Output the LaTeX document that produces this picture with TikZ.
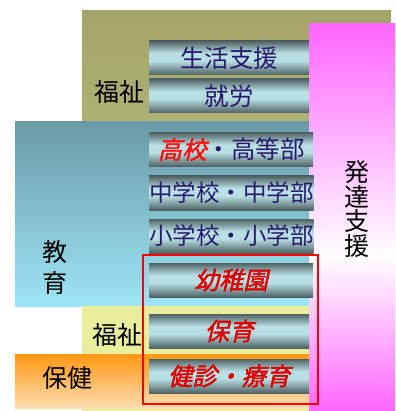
\documentclass[tikz,border=0pt]{standalone}
\usepackage{fontspec}
\setmainfont{Noto Sans CJK JP}
\newfontfamily\slantfont[FakeSlant=0.22,FakeBold=1.8]{Noto Sans CJK JP}
\usetikzlibrary{positioning}
\definecolor{olivetop}{HTML}{A3A468}
\definecolor{olivebot}{HTML}{AEB274}
\definecolor{tealtop}{HTML}{6A9AA6}
\definecolor{tealbot}{HTML}{9DE5F5}
\definecolor{paleyellow}{HTML}{E9EE9C}
\definecolor{orangetop}{HTML}{FF9812}
\definecolor{orangebot}{HTML}{FFDDB2}
\definecolor{pinkband}{HTML}{FF66FF}
\definecolor{bardark}{HTML}{4F6264}
\definecolor{barlight}{HTML}{B8E0E4}
\definecolor{navytext}{HTML}{2A1A6E}
\definecolor{redtext}{HTML}{DD0000}
\definecolor{brightred}{HTML}{FF1010}
\pgfdeclareverticalshading{metalbar}{100bp}{color(0bp)=(bardark); color(25bp)=(bardark); color(46bp)=(barlight); color(57bp)=(barlight); color(75bp)=(bardark); color(100bp)=(bardark)}
\pgfdeclareverticalshading{devband}{100bp}{color(0bp)=(pinkband); color(25bp)=(pinkband); color(45bp)=(white); color(75bp)=(pinkband); color(100bp)=(pinkband)}

\begin{document}
\begin{tikzpicture}[x=1pt,y=-1pt,
    bar/.style={anchor=west,shading=metalbar,inner sep=0pt,minimum width=160pt,minimum height=34pt,text=navytext,font=\fontsize{24.5}{25}\selectfont},
    widebar/.style={bar,minimum width=164pt},
    longtext/.style={font=\fontsize{23.5}{25}\selectfont},
    area/.style={font=\fontsize{25}{24.5}\selectfont,text=black,inner sep=0pt,align=center},
    hot/.style={text=redtext},
    redframe/.style={draw=red,line width=1.6pt}]
   \useasboundingbox (0,0) rectangle (395,411);
   % background bands
   \shade[top color=olivetop,bottom color=olivebot] (82,11) rectangle (391,122);
   \shade[shading=devband] (309,24) rectangle (395,411);
   \shade[top color=tealtop,bottom color=tealbot] (15,122) rectangle (309,306);
   \fill[paleyellow] (82,306) rectangle (309,411);
   \shade[top color=orangetop,bottom color=orangebot] (15,354) rectangle (309,408);
   % services
   \node[bar]     (life)   at (149,58)  {生活支援};
   \node[bar]     (work)   at (149,96)  {就労};
   \node[widebar] (high)   at (149,149.5) {{\slantfont\color{brightred}高校}・高等部};
   \node[bar,longtext]     (middle) at (149,193) {中学校・中学部};
   \node[widebar,longtext] (primary) at (149,236) {小学校・小学部};
   \node[widebar,hot] (kinder) at (149,280) {\slantfont 幼稚園};
   \node[bar,hot] (nursery) at (149,331) {\slantfont 保育};
   \node[bar,hot] (checkup) at (149,376) {\slantfont 健診・療育};
   \draw[redframe] (143,255) rectangle (318,404);
   % fields
   \node[area] (welfareA) at (119,92)  {福祉};
   \node[area] (eduA)     at (55,252)  {教};
   \node[area] (eduB)     at (55,283)  {育};
   \node[area] (welfareB) at (117,335) {福祉};
   \node[area] (health)   at (67,378)  {保健};
   \node[area] (devsup)   at (357,209) {発\\達\\支\\援};
  \end{tikzpicture}
\end{document}
